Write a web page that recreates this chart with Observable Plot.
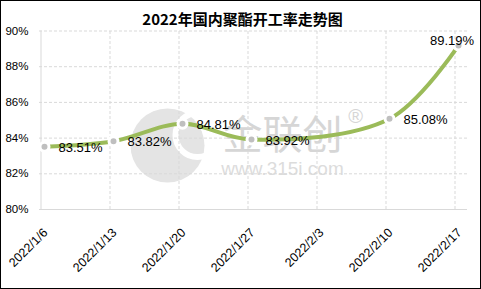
<!DOCTYPE html>
<html>
<head>
<meta charset="utf-8">
<script src="https://cdn.jsdelivr.net/npm/d3@7"></script>
<script src="https://cdn.jsdelivr.net/npm/@observablehq/plot@0.6"></script>
<style>
  html, body { margin: 0; padding: 0; background: #fff; }
  #chart svg { display: block; outline: 1px solid #000; outline-offset: -1px; }
</style>
</head>
<body>
<div id="chart"></div>
<script>
const title = "2022年国内聚酯开工率走势图";
const dates = ["2022/1/6", "2022/1/13", "2022/1/20", "2022/1/27", "2022/2/3", "2022/2/10", "2022/2/17"];
const rates = [83.51, 83.82, 84.81, 83.92, null, 85.08, 89.19];
const yTicks = [80, 82, 84, 86, 88, 90];

const data = dates.map((d, i) => ({date: d, rate: rates[i]})).filter(d => d.rate != null);
const lastDate = dates[dates.length - 1];
const mainLabels = data.filter(d => d.date !== lastDate);
const lastLabel = data.filter(d => d.date === lastDate);
const fmt = v => v.toFixed(2) + "%";

const sans = "Liberation Sans, Arial, sans-serif";
const cjk = "Noto Sans CJK SC, sans-serif";
const grid = "#d9d9d9";

const chart = Plot.plot({
  width: 481,
  height: 289,
  marginTop: 30.5,
  marginBottom: 80,
  marginLeft: 39,
  marginRight: 14,
  style: {background: "#fff", fontFamily: sans},
  x: {type: "point", domain: dates, range: [42.5, 459], padding: 0, axis: null},
  y: {domain: [80, 90], axis: null},
  marks: [
    // watermark
    Plot.dot([0], {frameAnchor: "top-left", dx: 128, dy: 114.5, r: 37, fill: "#e4e4e4", stroke: "none"}),
    Plot.dot([0], {frameAnchor: "top-left", dx: 158, dy: 104, r: 22, fill: "none", stroke: "#fff", strokeWidth: 6}),
    Plot.text(["金联创"], {frameAnchor: "top-left", dx: 243, dy: 105, fontSize: 40, fill: "#d6d6d6", fontFamily: cjk, lineAnchor: "middle", textAnchor: "middle"}),
    Plot.text(["®"], {frameAnchor: "top-left", dx: 316, dy: 86, fontSize: 20, fill: "#d6d6d6", fontFamily: sans, lineAnchor: "middle", textAnchor: "middle"}),
    Plot.text(["www.315i.com"], {frameAnchor: "top-left", dx: 243, dy: 137.5, fontSize: 19, fill: "#dcdcdc", fontFamily: sans, lineAnchor: "middle", textAnchor: "middle"}),
    // gridlines
    Plot.ruleY(yTicks.filter(t => t > 80), {y: d => d, stroke: grid, strokeDasharray: "3,2"}),
    Plot.ruleX(dates.slice(1), {x: d => d, y1: 80, y2: 90, dx: -3.5, stroke: grid, strokeDasharray: "3,2"}),
    Plot.ruleX(dates.slice(0, 1), {x: d => d, y1: 80, y2: 90, dx: -3.5, stroke: grid}),
    Plot.ruleY([80], {stroke: grid}),
    // y tick labels
    Plot.text(yTicks, {y: d => d, text: d => d + "%", frameAnchor: "left", dx: -11, textAnchor: "end", lineAnchor: "middle", fontSize: 11.5, fill: "#000", fontFamily: sans}),
    // x tick labels
    Plot.text(dates, {x: d => d, text: d => d, frameAnchor: "bottom", dx: 1, dy: 21, rotate: -45, textAnchor: "end", lineAnchor: "middle", fontSize: 12.5, fill: "#000", fontFamily: sans, style: "letter-spacing:0.6px"}),
    // title
    Plot.text([title], {frameAnchor: "top", dx: -11, dy: -10.5, lineAnchor: "middle", textAnchor: "middle", fontSize: 15, fontWeight: "bold", fill: "#000", fontFamily: cjk, style: "letter-spacing:2.5px"}),
    // series
    Plot.line(data, {x: "date", y: "rate", stroke: "#9bbb59", strokeWidth: 4, curve: "catmull-rom"}),
    Plot.dot(data, {x: "date", y: "rate", r: 4.5, fill: "#bfbfbf", stroke: "#fff", strokeWidth: 3}),
    Plot.text(mainLabels, {x: "date", y: "rate", text: d => fmt(d.rate), textAnchor: "start", lineAnchor: "middle", dx: 14, dy: 1, fontSize: 13, fill: "#000", fontFamily: sans}),
    Plot.text(lastLabel, {x: "date", y: "rate", text: d => fmt(d.rate), textAnchor: "middle", lineAnchor: "middle", dx: -6.5, dy: -4.5, fontSize: 13, fill: "#000", fontFamily: sans})
  ]
});
document.getElementById("chart").appendChild(chart);
</script>
</body>
</html>
